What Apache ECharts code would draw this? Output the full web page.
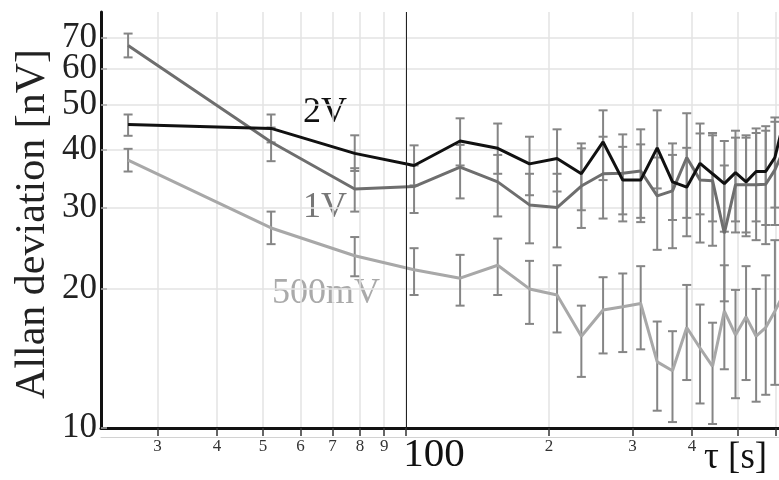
<!DOCTYPE html>
<html>
<head>
<meta charset="utf-8">
<script src="https://cdn.jsdelivr.net/npm/echarts@6/dist/echarts.min.js"></script>
<style>
html, body { margin: 0; padding: 0; background: #fff; }
#chart { width: 779px; height: 480px; }
</style>
</head>
<body>
<div id="chart"></div>
<script>
// averaging time tau [s]
var tau = [26, 52, 78, 104, 130, 156, 182, 208, 234, 260, 286, 312, 338, 364, 390, 416, 442, 468, 494, 520, 546, 572, 598, 624]

// 2V
var dev2V = [45.4, 44.5, 39.3, 37.0, 41.8, 40.3, 37.3, 38.3, 35.5, 41.6, 34.4, 34.4, 40.4, 34.1, 33.2, 37.4, 35.5, 33.8, 35.7, 34.1, 35.9, 35.9, 38.5, 46]
var lo2V = [42.9, 41.5, 36.0, 33.5, 37.0, 35.5, 31.9, 32.5, 29.6, 34.4, 28.0, 28.5, 33.0, 28.2, 26.0, 29.0, 28.0, 26.6, 28.0, 26.5, 28.0, 27.5, 30.0, 38]
var hi2V = [47.7, 47.7, 43.0, 40.9, 46.8, 45.6, 42.7, 44.3, 41.3, 48.7, 40.6, 41.1, 48.7, 41.3, 40.4, 45.6, 43.5, 41.8, 44.0, 42.5, 44.5, 45.0, 47.0, 53]

// 1V
var dev1V = [67.3, 41.6, 32.9, 33.3, 36.7, 34.1, 30.4, 30.0, 33.4, 35.5, 35.6, 36.0, 31.8, 32.6, 38.5, 34.4, 34.3, 26.4, 33.6, 33.6, 33.6, 33.7, 36.2, 40]
var lo1V = [63.4, 37.8, 29.4, 29.2, 31.4, 28.7, 25.1, 24.6, 27.1, 28.4, 29.0, 27.9, 24.3, 24.5, 28.5, 25.2, 24.8, 18.8, 26.5, 26.0, 25.5, 25.0, 27.5, 31]
var hi1V = [71.4, 44.7, 36.5, 37.0, 41.0, 39.0, 35.5, 35.5, 40.3, 42.7, 43.2, 44.3, 38.5, 39.0, 48.0, 43.4, 43.0, 37.0, 42.5, 43.0, 43.5, 44.0, 46.0, 50]

// 500mV
var dev500 = [38.0, 27.1, 23.6, 22.0, 21.1, 22.5, 20.0, 19.4, 15.8, 18.0, 18.3, 18.6, 13.9, 13.3, 16.5, 14.9, 13.6, 17.9, 15.9, 17.4, 15.8, 16.5, 17.9, 19.5]
var lo500 = [35.9, 25.0, 21.3, 19.4, 18.4, 19.4, 16.8, 16.1, 12.9, 14.5, 14.6, 14.8, 10.9, 10.3, 12.7, 11.3, 10.2, 13.4, 11.6, 12.7, 11.4, 11.8, 12.4, 14]
var hi500 = [40.2, 29.4, 25.9, 24.5, 23.7, 25.7, 23.0, 22.5, 18.4, 21.2, 21.6, 22.4, 17.0, 16.2, 20.4, 18.5, 16.9, 22.5, 19.9, 22.4, 20.0, 21.4, 25.5, 26]

// ticks
var xTicks = [30, 40, 50, 60, 70, 80, 90, 100, 200, 300, 400, 500, 600]
var xTickLabels = ['3', '4', '5', '6', '7', '8', '9', '100', '2', '3', '4', '', '']
var yTicks = [10, 20, 30, 40, 50, 60, 70]
var yTickLabels = ['10', '20', '30', '40', '50', '60', '70']

var xRange = [22.8, 610]
var yRange = [10, 79.5]

var lg = Math.log10
var SERIF = "'Liberation Serif', 'Times New Roman', serif"

function pairs(xs, ys) {
  return xs.map(function (x, i) { return [lg(x), lg(ys[i])] })
}
function bars(xs, lo, hi) {
  return xs.map(function (x, i) { return [lg(x), lg(lo[i]), lg(hi[i])] })
}
function tickLabel(ticks, labels, v) {
  for (var i = 0; i < ticks.length; i++) {
    if (Math.abs(lg(ticks[i]) - v) < 1e-6) return labels[i]
  }
  return ''
}

// error bar with caps
function renderBar(params, api) {
  var x = api.value(0)
  var top = api.coord([x, api.value(2)])
  var bot = api.coord([x, api.value(1)])
  var w = 4.5
  var st = { stroke: '#858585', lineWidth: 2 }
  return {
    type: 'group',
    children: [
      { type: 'line', shape: { x1: top[0], y1: top[1], x2: bot[0], y2: bot[1] }, style: st },
      { type: 'line', shape: { x1: top[0] - w, y1: top[1], x2: top[0] + w, y2: top[1] }, style: st },
      { type: 'line', shape: { x1: bot[0] - w, y1: bot[1], x2: bot[0] + w, y2: bot[1] }, style: st }
    ]
  }
}

function barSeries(data) {
  return {
    type: 'custom',
    renderItem: renderBar,
    data: data,
    encode: { x: 0, y: [1, 2] },
    clip: true,
    silent: true,
    z: 2
  }
}
function lineSeries(name, data, color) {
  return {
    name: name,
    type: 'line',
    data: data,
    showSymbol: false,
    clip: true,
    lineStyle: { color: color, width: 3 },
    itemStyle: { color: color },
    z: 3
  }
}

// y labels are split over two overlaid axes so none of them gets hidden
function yLabelAxis(ticks, withLine) {
  return {
    type: 'value',
    position: 'left',
    offset: 0,
    min: lg(yRange[0]),
    max: lg(yRange[1]),
    axisLine: { show: withLine, onZero: false, lineStyle: { color: '#111', width: 3 } },
    axisTick: withLine
      ? { show: true, inside: true, customValues: yTicks.map(lg), length: 6, lineStyle: { color: '#aaa', width: 1.5 } }
      : { show: false },
    splitLine: withLine
      ? { show: true, lineStyle: { color: '#e3e3e3', width: 1.5 } }
      : { show: false },
    axisLabel: {
      customValues: ticks.map(lg),
      margin: 4,
      hideOverlap: false,
      showMinLabel: true,
      showMaxLabel: true,
      fontFamily: SERIF,
      fontSize: 35,
      lineHeight: 24,
      color: '#222',
      formatter: function (v) { return tickLabel(yTicks, yTickLabels, v) }
    }
  }
}

var chart = echarts.init(document.getElementById('chart'))

var option = {
  animation: false,
  backgroundColor: '#fff',
  grid: { left: 101, right: 0, top: 12, bottom: 52, outerBoundsMode: 'none', containLabel: false },
  xAxis: [
    {
      type: 'value',
      min: lg(xRange[0]),
      max: lg(xRange[1]),
      axisLine: { show: true, onZero: false, lineStyle: { color: '#111', width: 3 } },
      axisTick: { show: true, customValues: xTicks.map(lg), length: 8, lineStyle: { color: '#333', width: 1.5 } },
      splitLine: { show: true, lineStyle: { color: '#e3e3e3', width: 1.5 } },
      axisLabel: {
        customValues: xTicks.map(lg),
        margin: 7,
        hideOverlap: false,
        showMinLabel: true,
        showMaxLabel: true,
        formatter: function (v) {
          var s = tickLabel(xTicks, xTickLabels, v)
          if (s === '') return ''
          return s === '100' ? '{big|' + s + '}' : '{s|' + s + '}'
        },
        rich: {
          s: { fontFamily: SERIF, fontSize: 17, lineHeight: 17, color: '#333', padding: [6, 0, 0, 0] },
          big: { fontFamily: SERIF, fontSize: 41, lineHeight: 41, color: '#111', padding: [0, 0, 0, 56] }
        }
      }
    },
    {
      type: 'value',
      position: 'bottom',
      offset: 9,
      min: lg(xRange[0]),
      max: lg(xRange[1]),
      axisLine: { show: true, onZero: false, lineStyle: { color: '#d2d2d2', width: 1 } },
      axisTick: { show: false },
      axisLabel: { show: false },
      splitLine: { show: false }
    }
  ],
  yAxis: [
    yLabelAxis([10, 30, 50, 70], true),
    yLabelAxis([20, 40, 60], false)
  ],
  series: [
    barSeries(bars(tau, lo500, hi500)),
    barSeries(bars(tau, lo1V, hi1V)),
    barSeries(bars(tau, lo2V, hi2V)),
    lineSeries('500mV', pairs(tau, dev500), '#a8a8a8'),
    lineSeries('1V', pairs(tau, dev1V), '#6e6e6e'),
    Object.assign(lineSeries('2V', pairs(tau, dev2V), '#111'), {
      markLine: {
        silent: true,
        symbol: 'none',
        label: { show: false },
        lineStyle: { color: '#222', width: 1, type: 'solid' },
        data: [{ xAxis: lg(100) }]
      }
    })
  ],
  graphic: [
    {
      type: 'text', x: 33, y: 224, rotation: Math.PI / 2,
      style: { text: 'Allan deviation [nV]', font: '42px ' + SERIF, fill: '#222', align: 'center', verticalAlign: 'middle' }
    },
    {
      type: 'text', x: 704, y: 458,
      style: { text: 'τ [s]', font: '37px ' + SERIF, fill: '#111', align: 'left', verticalAlign: 'middle' }
    },
    { type: 'text', x: 303, y: 113, style: { text: '2V', font: '36px ' + SERIF, fill: '#111', align: 'left', verticalAlign: 'middle' } },
    { type: 'text', x: 303, y: 208, style: { text: '1V', font: '36px ' + SERIF, fill: '#777', align: 'left', verticalAlign: 'middle' } },
    { type: 'text', x: 272, y: 294, style: { text: '500mV', font: '36px ' + SERIF, fill: '#aaa', align: 'left', verticalAlign: 'middle' } }
  ]
}

chart.setOption(option)
</script>
</body>
</html>
